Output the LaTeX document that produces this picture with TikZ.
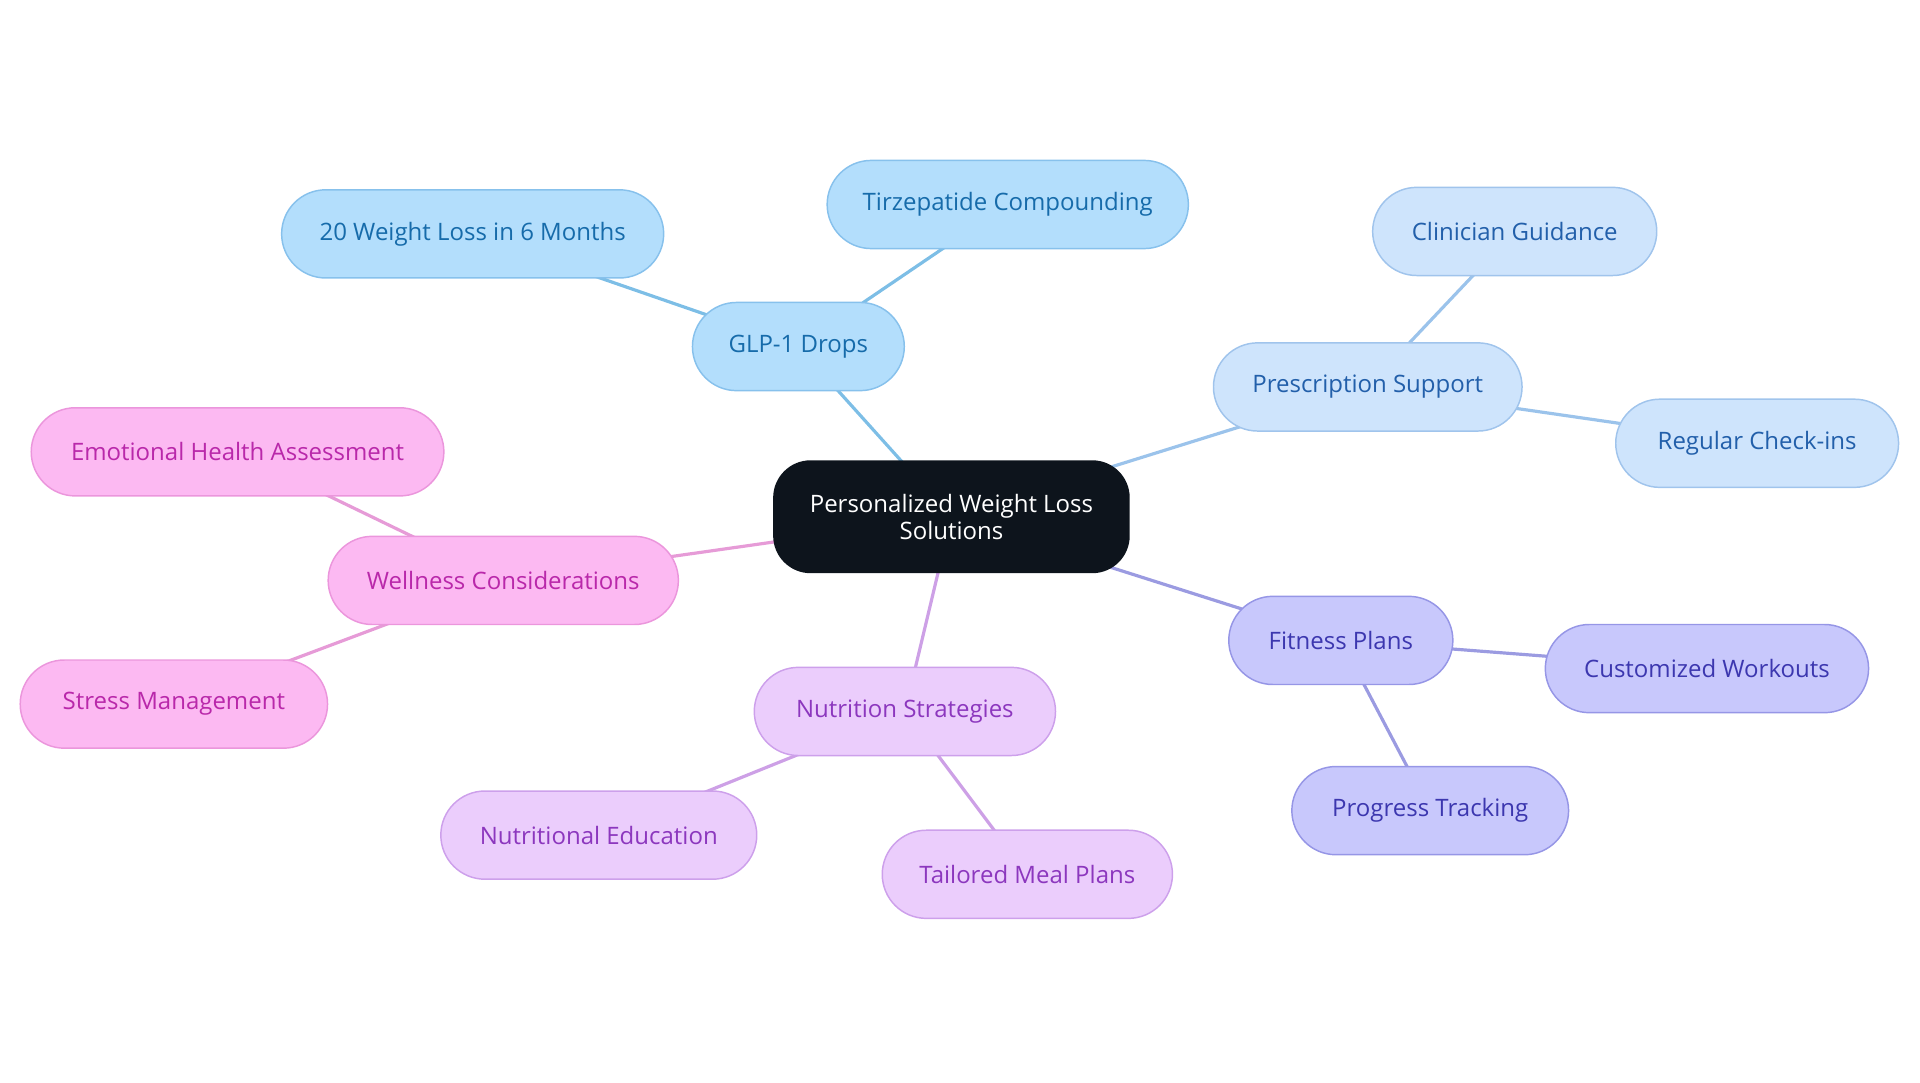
\documentclass[tikz,border=0pt]{standalone}
\usepackage{fontspec}
\setmainfont{Open Sans}
\usepackage{tikz}
\usetikzlibrary{backgrounds}

\definecolor{rootfill}{RGB}{13,20,28}
\definecolor{glpfill}{RGB}{179,222,252}
\definecolor{glpdraw}{RGB}{135,193,236}
\definecolor{glptext}{RGB}{22,107,170}
\definecolor{glpline}{RGB}{125,190,230}
\definecolor{rxfill}{RGB}{206,228,252}
\definecolor{rxdraw}{RGB}{160,196,236}
\definecolor{rxtext}{RGB}{34,95,170}
\definecolor{rxline}{RGB}{155,195,235}
\definecolor{fitfill}{RGB}{200,200,252}
\definecolor{fitdraw}{RGB}{150,150,230}
\definecolor{fittext}{RGB}{60,55,175}
\definecolor{fitline}{RGB}{155,155,225}
\definecolor{nutfill}{RGB}{235,205,252}
\definecolor{nutdraw}{RGB}{205,160,235}
\definecolor{nuttext}{RGB}{140,55,190}
\definecolor{nutline}{RGB}{205,160,230}
\definecolor{welfill}{RGB}{252,185,242}
\definecolor{weldraw}{RGB}{235,150,220}
\definecolor{weltext}{RGB}{185,40,170}
\definecolor{welline}{RGB}{230,155,215}

\tikzset{
  idea/.style={rectangle, rounded corners=36pt, minimum height=72pt, inner xsep=0pt,
    line width=1.2pt, font=\fontsize{19.6}{22}\selectfont, align=center},
  glp/.style={idea, fill=glpfill, draw=glpdraw, text=glptext},
  rx/.style={idea, fill=rxfill, draw=rxdraw, text=rxtext},
  fit/.style={idea, fill=fitfill, draw=fitdraw, text=fittext},
  nut/.style={idea, fill=nutfill, draw=nutdraw, text=nuttext},
  wel/.style={idea, fill=welfill, draw=weldraw, text=weltext},
  link/.style={line width=2.6pt}
}

\begin{document}
\begin{tikzpicture}[x=1pt, y=-1pt]
  \useasboundingbox (0,0) rectangle (1568,884.4);
  % centre
  \node (m) [idea, fill=rootfill, draw=rootfill, text=white, minimum width=290pt,
    minimum height=91pt, rounded corners=30pt] at (777,422) {Personalized Weight Loss\\Solutions};
  % GLP-1 branch
  \node (glp1) [glp, minimum width=173pt] at (652,283) {GLP-1 Drops};
  \node (tirz) [glp, minimum width=295pt] at (823,167) {Tirzepatide Compounding};
  \node (loss) [glp, minimum width=312pt] at (386,191) {20 Weight Loss in 6 Months};
  % prescription branch
  \node (presc) [rx, minimum width=252pt] at (1117,316) {Prescription Support};
  \node (clin) [rx, minimum width=232pt] at (1237,189) {Clinician Guidance};
  \node (check) [rx, minimum width=231pt] at (1435,362) {Regular Check-ins};
  % fitness branch
  \node (fitn) [fit, minimum width=183pt] at (1095,523) {Fitness Plans};
  \node (work) [fit, minimum width=264pt] at (1394,546) {Customized Workouts};
  \node (prog) [fit, minimum width=226pt] at (1168,662) {Progress Tracking};
  % nutrition branch
  \node (nutr) [nut, minimum width=246pt] at (739,581) {Nutrition Strategies};
  \node (edu) [nut, minimum width=258pt] at (489,682) {Nutritional Education};
  \node (meal) [nut, minimum width=237pt] at (839,714) {Tailored Meal Plans};
  % wellness branch
  \node (well) [wel, minimum width=286pt] at (411,474) {Wellness Considerations};
  \node (emo) [wel, minimum width=337pt] at (194,369) {Emotional Health Assessment};
  \node (stress) [wel, minimum width=251pt] at (142,575) {Stress Management};

  \begin{scope}[on background layer]
    \path[link]
    (m.center) edge [glpline] (glp1.center)
    (glp1.center) edge [glpline] (tirz.center)
    (glp1.center) edge [glpline] (loss.center)
    (m.center) edge [rxline] (presc.center)
    (presc.center) edge [rxline] (clin.center)
    (presc.center) edge [rxline] (check.center)
    (m.center) edge [fitline] (fitn.center)
    (fitn.center) edge [fitline] (work.center)
    (fitn.center) edge [fitline] (prog.center)
    (m.center) edge [nutline] (nutr.center)
    (nutr.center) edge [nutline] (edu.center)
    (nutr.center) edge [nutline] (meal.center)
    (m.center) edge [welline] (well.center)
    (well.center) edge [welline] (emo.center)
    (well.center) edge [welline] (stress.center)
    ;
  \end{scope}
\end{tikzpicture}
\end{document}
